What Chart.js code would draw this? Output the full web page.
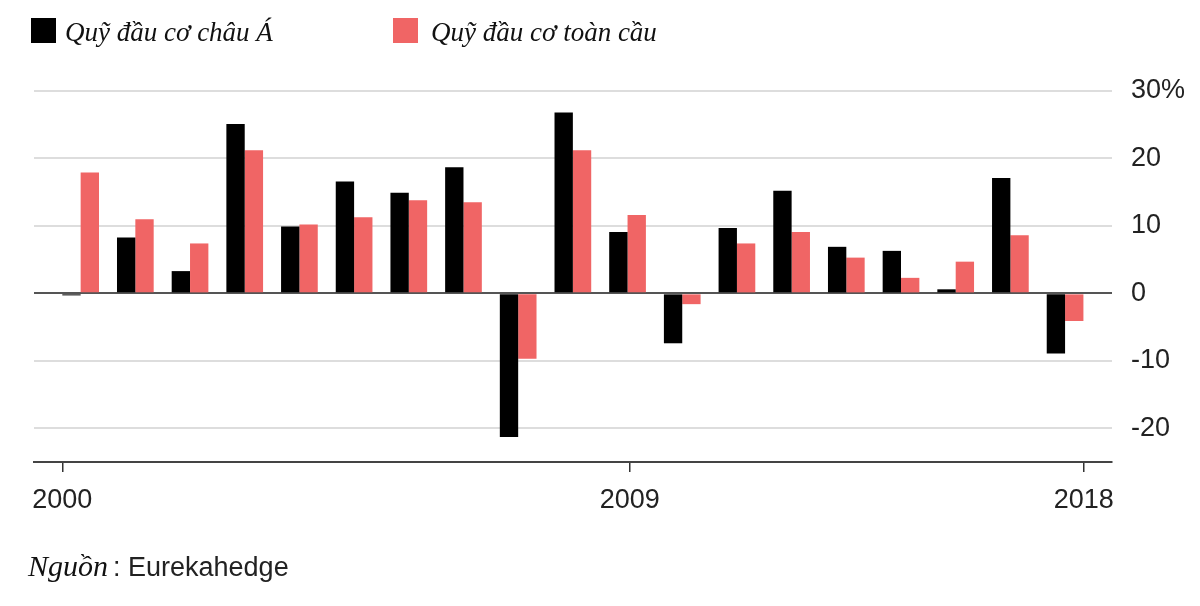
<!DOCTYPE html>
<html>
<head>
<meta charset="utf-8">
<script src="https://cdn.jsdelivr.net/npm/chart.js@4"></script>
<style>
  body { margin: 0; background: #fff; }
  #wrap { position: relative; width: 1200px; height: 606px; }
  .sq { position: absolute; top: 18px; width: 25px; height: 25px; }
  .lg { position: absolute; top: 19px; font: italic 27px/27px "Liberation Serif", serif; color: #111; white-space: nowrap; }
  #src { position: absolute; left: 28px; top: 552px; font: 27px/27px "Liberation Sans", sans-serif; color: #222; white-space: nowrap; }
  #src i { font-family: "Liberation Serif", serif; font-size: 30px; color: #111; }
</style>
</head>
<body>
<div id="wrap">
  <canvas id="chart"></canvas>
  <div id="legend"></div>
  <div id="src"><i>Nguồn</i><span style="margin-left:5px">: Eurekahedge</span></div>
</div>
<script>
const years = [2000, 2001, 2002, 2003, 2004, 2005, 2006, 2007, 2008, 2009,
               2010, 2011, 2012, 2013, 2014, 2015, 2016, 2017, 2018];

const asiaFunds = [-0.3, 8.3, 3.3, 25.1, 9.9, 16.6, 14.9, 18.7, -21.3, 26.8,
                   9.1, -7.4, 9.7, 15.2, 6.9, 6.3, 0.6, 17.1, -8.9];

const globalFunds = [17.9, 11.0, 7.4, 21.2, 10.2, 11.3, 13.8, 13.5, -9.7, 21.2,
                     11.6, -1.6, 7.4, 9.1, 5.3, 2.3, 4.7, 8.6, -4.1];

const seriesNames = ['Quỹ đầu cơ châu Á', 'Quỹ đầu cơ toàn cầu'];
const seriesColors = ['#000000', '#f06565'];

const xTickLabels = ['2000', '2009', '2018'];
const yTickValues = [-20, -10, 0, 10, 20, 30];
const yTickLabels = ['-20', '-10', '0', '10', '20', '30%'];

// where the source chart puts its year ticks (in the bar-centre year units)
const xTickAt = [1999.665, 2010.04, 2018.34];

// legend built in html, left offsets of square and text
const legendSq = [31, 393];
const legendTx = [65, 431];

let html = '';
seriesNames.forEach((name, i) => {
    html += `<div class="sq" style="left:${legendSq[i]}px;background:${seriesColors[i]}"></div>
             <div class="lg" style="left:${legendTx[i]}px">${name}</div>`;
});
document.getElementById('legend').innerHTML = html;

const tickFont = { family: '"Liberation Sans", Arial, sans-serif', size: 27 };

new Chart(document.getElementById('chart'), {
    type: 'bar',
    data: {
        datasets: [
            {
                label: seriesNames[0],
                data: years.map((y, i) => ({ x: y, y: asiaFunds[i] })),
                backgroundColor: seriesColors[0]
            },
            {
                label: seriesNames[1],
                data: years.map((y, i) => ({ x: y, y: globalFunds[i] })),
                backgroundColor: seriesColors[1]
            }
        ]
    },
    options: {
        responsive: true,
        maintainAspectRatio: false,
        animation: false,
        categoryPercentage: 0.671,
        barPercentage: 1,
        layout: { padding: { left: 34, top: 91, right: 0, bottom: 0 } },
        plugins: {
            legend: { display: false },
            tooltip: { enabled: false }
        },
        scales: {
            x: {
                type: 'linear',
                offset: false,
                min: 1999.147,
                max: 2018.858,
                afterBuildTicks: s => { s.ticks = xTickAt.map(v => ({ value: v })); },
                afterFit: s => { s.height = 144; },
                grid: {
                    display: true,
                    offset: false,
                    drawOnChartArea: false,
                    drawTicks: true,
                    tickLength: 10,
                    color: '#333',
                    lineWidth: 1.5
                },
                border: { display: true, color: '#444', width: 2 },
                ticks: {
                    autoSkip: false,
                    maxRotation: 0,
                    padding: 12,
                    color: '#222',
                    font: tickFont,
                    callback: (v, i) => xTickLabels[i]
                }
            },
            y: {
                position: 'right',
                min: -25,
                max: 30,
                afterBuildTicks: s => { s.ticks = yTickValues.map(v => ({ value: v })); },
                afterFit: s => { s.width = 88; },
                grid: {
                    drawTicks: false,
                    lineWidth: 2,
                    color: ctx => ctx.tick && ctx.tick.value === 0 ? '#555' : '#dddddd'
                },
                border: { display: false },
                ticks: {
                    padding: 19,
                    color: '#222',
                    font: tickFont,
                    callback: (v, i) => yTickLabels[i]
                }
            }
        }
    }
});
</script>
</body>
</html>
